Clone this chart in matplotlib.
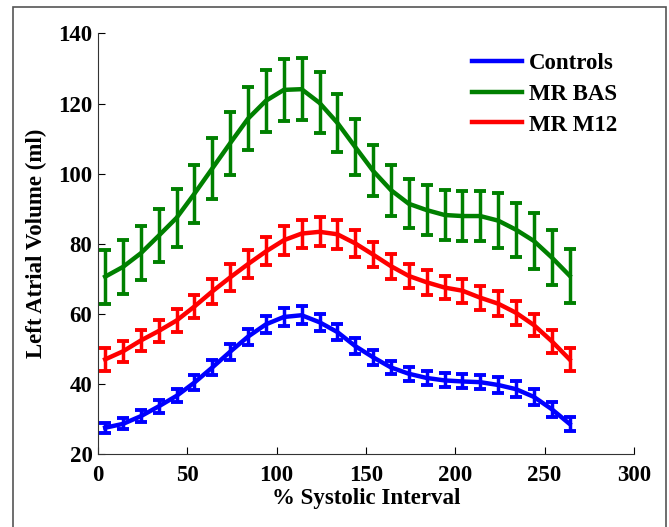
import matplotlib
matplotlib.use("Agg")
import matplotlib.pyplot as plt
from matplotlib.patches import Rectangle

x = [4, 14, 24, 34, 44, 54, 64, 74, 84, 94, 104, 114, 124, 134, 144,
     154, 164, 174, 184, 194, 204, 214, 224, 234, 244, 254, 264]

controls = [27.5, 28.6, 30.8, 33.6, 36.6, 40.4, 44.7, 49.2, 53.5, 57.0, 59.1, 59.6, 57.6,
            54.8, 50.8, 47.6, 44.7, 42.9, 41.7, 41.0, 40.7, 40.5, 39.7, 38.5, 36.3, 32.8, 28.6]
controls_err = [1.4, 1.6, 1.7, 1.8, 1.9, 2.1, 2.2, 2.3, 2.3, 2.4, 2.5, 2.6, 2.4,
                2.4, 2.3, 2.2, 1.9, 2.0, 2.0, 2.0, 2.0, 2.0, 2.3, 2.2, 2.3, 2.1, 1.9]

mr_bas = [70.6, 73.4, 77.3, 82.3, 87.4, 94.3, 101.5, 108.7, 115.7, 120.8, 123.9, 124.1, 120.2,
          114.5, 107.6, 100.8, 95.3, 91.4, 89.6, 88.2, 87.9, 87.9, 86.6, 84.0, 80.8, 76.1, 70.9]
mr_bas_err = [7.7, 7.8, 7.7, 7.5, 8.2, 8.3, 8.8, 9.0, 9.0, 8.9, 8.8, 8.8, 8.7,
              8.3, 7.9, 7.3, 7.3, 7.0, 7.2, 7.2, 7.1, 7.1, 7.8, 7.7, 7.9, 7.8, 7.7]

mr_m12 = [47.0, 49.3, 52.4, 55.1, 58.1, 62.1, 66.4, 70.4, 74.2, 77.8, 81.0, 82.9, 83.4,
          82.7, 80.1, 76.9, 73.6, 70.8, 69.0, 67.5, 66.6, 64.6, 62.9, 60.3, 56.8, 52.2, 47.0]
mr_m12_err = [3.3, 3.0, 3.1, 3.0, 3.2, 3.3, 3.6, 3.8, 4.0, 4.0, 4.1, 4.0, 4.1,
              4.1, 3.9, 3.6, 3.6, 3.5, 3.5, 3.4, 3.4, 3.4, 3.5, 3.4, 3.2, 3.3, 3.3]

series = [("Controls", controls, controls_err, (0, 0, 1)),
          ("MR BAS", mr_bas, mr_bas_err, (0, 0.5, 0)),
          ("MR M12", mr_m12, mr_m12_err, (1, 0, 0))]

xticks = [0, 50, 100, 150, 200, 250, 300]
yticks = [20, 40, 60, 80, 100, 120, 140]

plt.rcParams['font.family'] = ['Liberation Serif', 'DejaVu Serif']
plt.rcParams['font.weight'] = 'bold'

fig = plt.figure(figsize=(6.69, 5.27), dpi=100)
ax = fig.add_axes([0.1465, 0.1385, 0.801, 0.798])

handles = []
for name, y, e, c in series:
    ax.errorbar(x, y, yerr=e, fmt='none', ecolor=c, elinewidth=2.5,
                capsize=4, capthick=2.8)
    h, = ax.plot(x, y, color=c, lw=3.2, label=name)
    handles.append(h)

ax.set_xlim(0, 300)
ax.set_ylim(20, 140)
ax.set_xticks(xticks)
ax.set_yticks(yticks)
ax.tick_params(direction='in', length=5, width=0.8, labelsize=16.5, colors='black')
ax.tick_params(axis='x', pad=8)
ax.tick_params(axis='y', pad=4)
for s in ['top', 'right']:
    ax.spines[s].set_visible(False)
for s in ['left', 'bottom']:
    ax.spines[s].set_linewidth(0.8)
    ax.spines[s].set_color('#333333')
for lab in ax.get_xticklabels() + ax.get_yticklabels():
    lab.set_fontweight('bold')

ax.set_xlabel('% Systolic Interval', fontsize=16.5, fontweight='bold', labelpad=1)
ax.set_ylabel('Left Atrial Volume (ml)', fontsize=16.5, fontweight='bold', labelpad=8)

leg = ax.legend(handles=handles, loc='upper left', bbox_to_anchor=(0.68, 0.975),
                frameon=False, fontsize=16.5, handlelength=2.2, handletextpad=0.3,
                labelspacing=0.42, borderaxespad=0)
for t in leg.get_texts():
    t.set_fontweight('bold')

fig.patches.append(Rectangle((13 / 669, -0.05), (666 - 13) / 669, 1.05 - 7 / 527,
                             transform=fig.transFigure, fill=False,
                             edgecolor='#555555', lw=1.2))

fig.savefig('out.png', dpi=100)
